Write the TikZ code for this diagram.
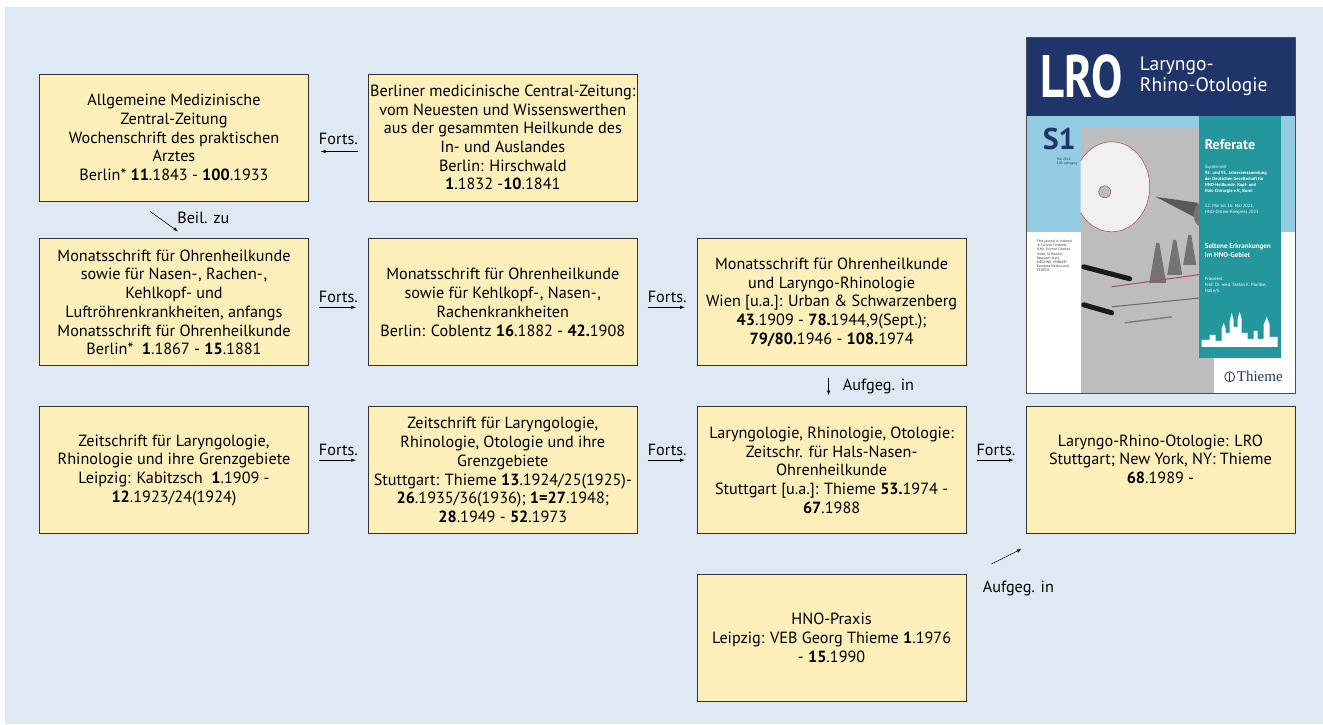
\documentclass[tikz,border=0pt]{standalone}
\usepackage{fontspec}
\setmainfont{PT Sans}
\newfontfamily\thiemefont{Liberation Serif}
\usetikzlibrary{positioning}

\definecolor{bgblue}{HTML}{DFE9F4}
\definecolor{boxfill}{HTML}{FCEFBA}
\definecolor{lronavy}{HTML}{1F3468}
\definecolor{lrosky}{HTML}{94CCE4}
\definecolor{lroteal}{HTML}{24979C}
\definecolor{photogray}{HTML}{BDBDBD}

\begin{document}
\begin{tikzpicture}[font=\fontsize{16.2}{18.7}\selectfont]
    \tikzstyle{journal} = [draw=black!80, fill=boxfill, line width=0.8pt,
    minimum width=269pt, minimum height=127pt, inner sep=0pt, align=center]
    \tikzstyle{link} = [-latex, line width=0.6pt, shorten <=10pt, shorten >=12pt]
    \tikzstyle{linklabel} = [inner sep=1pt]

    \useasboundingbox (0,0) rectangle (1323pt,-724pt);
    \fill [bgblue] (5pt,-7pt) rectangle (1323pt,-724pt);

    \node [journal] (amz) at (174pt,-137.5pt) {Allgemeine Medizinische\\Zentral-Zeitung\\Wochenschrift des praktischen\\Arztes\\Berlin* \textbf{11}.1843 - \textbf{100}.1933};
    \node [journal, right=59pt of amz] (bmc) {Berliner medicinische Central-Zeitung:\\vom Neuesten und Wissenswerthen\\aus der gesammten Heilkunde des\\In- und Auslandes\\Berlin: Hirschwald\\\textbf{1}.1832 -\textbf{10}.1841};
    \node [journal, below=37pt of amz] (mfo) {Monatsschrift für Ohrenheilkunde\\sowie für Nasen-\kern0.8pt, Rachen-\kern0.8pt,\\Kehlkopf- und\\Luftröhrenkrankheiten, anfangs\\Monatsschrift für Ohrenheilkunde\\Berlin*\ \ \textbf{1}.1867 - \textbf{15}.1881};
    \node [journal, right=59pt of mfo] (mfk) {Monatsschrift für Ohrenheilkunde\\sowie für Kehlkopf-\kern0.8pt, Nasen-\kern0.8pt,\\Rachenkrankheiten\\Berlin: Coblentz \textbf{16}.1882 - \textbf{42.}1908};
    \node [journal, right=59pt of mfk] (mlr) {Monatsschrift für Ohrenheilkunde\\und Laryngo-Rhinologie\\Wien [u.a.]: Urban \& Schwarzenberg\\\textbf{43}.1909 - \textbf{78.}1944,9(Sept.);\\\textbf{79/80.}1946 - \textbf{108.}1974};
    \node [journal, below=40pt of mfo] (zlr) {Zeitschrift für Laryngologie,\\Rhinologie und ihre Grenzgebiete\\Leipzig: Kabitzsch\ \ \textbf{1}.1909 -\\\textbf{12}.1923/24(1924)};
    \node [journal, right=59pt of zlr] (zlo) {Zeitschrift für Laryngologie,\\Rhinologie, Otologie und ihre\\Grenzgebiete\\Stuttgart: Thieme \textbf{13}.1924/25(1925)-\\\textbf{26}.1935/36(1936); \textbf{1=27}.1948;\\\textbf{28}.1949 - \textbf{52}.1973};
    \node [journal, right=59pt of zlo] (lrz) {Laryngologie, Rhinologie, Otologie:\\Zeitschr. für Hals-Nasen-\\Ohrenheilkunde\\Stuttgart [u.a.]: Thieme \textbf{53.}1974 -\\\textbf{67}.1988};
    \node [journal, right=59pt of lrz, text depth=22pt] (lro) {Laryngo-Rhino-Otologie: LRO\\Stuttgart; New York, NY: Thieme\\\textbf{68}.1989 -};
    \node [journal, below=40pt of lrz] (hno) {HNO-Praxis\\Leipzig: VEB Georg Thieme \textbf{1}.1976\\- \textbf{15}.1990};

    \draw [link] ([yshift=-14pt]bmc.west) -- node [above=6pt, linklabel] {Forts.} ([yshift=-14pt]amz.east);
    \draw [link] ([yshift=-5pt]mfo.east) -- node [above=3pt, linklabel] {Forts.} ([yshift=-5pt]mfk.west);
    \draw [link] ([yshift=-5pt]mfk.east) -- node [above=3pt, linklabel] {Forts.} ([yshift=-5pt]mlr.west);
    \draw [link] ([yshift=10pt]zlr.east) -- node [above=3pt, linklabel] {Forts.} ([yshift=10pt]zlo.west);
    \draw [link] ([yshift=10pt]zlo.east) -- node [above=3pt, linklabel] {Forts.} ([yshift=10pt]lrz.west);
    \draw [link] ([yshift=10pt]lrz.east) -- node [above=3pt, linklabel] {Forts.} ([yshift=10pt]lro.west);
    \draw [-latex, line width=0.6pt] ([shift={(-24pt,-10pt)}]amz.south) -- node [midway, anchor=west, xshift=12pt, yshift=4pt, linklabel] {Beil. zu} ([shift={(4pt,7pt)}]mfo.north);
    \draw [link, shorten <=12pt, shorten >=11pt] ([xshift=-3pt]mlr.south) -- node [right=13pt, linklabel] {Aufgeg. in} ([xshift=-3pt]lrz.north);
    \draw [-latex, line width=0.6pt] ([shift={(25pt,10pt)}]hno.north east) -- node [at start, anchor=north west, xshift=-10pt, yshift=-16pt, linklabel] {Aufgeg. in} ([shift={(-4pt,-15pt)}]lro.south west);

    % journal cover
    \node [draw=black!70, fill=white, minimum width=269pt, minimum height=356pt, inner sep=0pt, above=13pt of lro] (cover) {};
    \begin{scope}[shift={(cover.north west)}]
        \fill [lronavy] (0,0) rectangle (269pt,-79pt);
        \fill [lrosky] (0,-79pt) rectangle (269pt,-195pt);
        \fill [photogray] (55pt,-91pt) rectangle (188pt,-356pt);
        \begin{scope}
            \clip (55pt,-91pt) rectangle (188pt,-356pt);
            \fill [gray!12] (86pt,-150pt) ellipse (38pt and 45pt);
            \draw [red!45!gray, line width=0.5pt] (86pt,-150pt) ellipse (38pt and 45pt);
            \fill [photogray] (79pt,-155pt) circle (6pt);
            \draw [red!45!gray, line width=0.5pt] (79pt,-155pt) circle (6pt);
            \fill [black!65] (130pt,-160pt) -- (172pt,-166pt) -- (172pt,-182pt) -- cycle;
            \fill [black!55] (178pt,-178pt) ellipse (10pt and 13pt);
            \foreach \x/\t/\b/\w in {132/206/246/8.5, 149/203/238/7.5, 164/198/228/6.5}
                \fill [black!55] ({(\x-1.5)*1pt},{-\t*1pt}) -- ({(\x+1.5)*1pt},{-\t*1pt}) -- ({(\x+\w)*1pt},{-\b*1pt}) -- ({(\x-\w)*1pt},{-\b*1pt}) -- cycle;
            \draw [black!90, line width=5pt, line cap=round] (58pt,-230pt) -- (104pt,-242pt);
            \draw [black!90, line width=5pt, line cap=round] (58pt,-268pt) -- (86pt,-276pt);
            \draw [red!40!gray, line width=1pt] (86pt,-250pt) -- (186pt,-236pt);
            \draw [black!60, line width=1pt] (86pt,-270pt) -- (186pt,-260pt);
            \draw [black!50, line width=1.5pt] (99pt,-286pt) -- (146pt,-280pt);
        \end{scope}
        \fill [lroteal] (173pt,-79pt) rectangle (255pt,-321pt);
        \fill [white] (176pt,-310pt) -- (176pt,-303pt) -- (184pt,-303pt) -- (184pt,-298pt) -- (190pt,-298pt) -- (190pt,-304pt) -- (196pt,-304pt) -- (196pt,-292pt) -- (198pt,-286pt) -- (200pt,-292pt) -- (200pt,-296pt) -- (204pt,-296pt) -- (204pt,-284pt) -- (206pt,-276pt) -- (208pt,-284pt) -- (208pt,-290pt) -- (212pt,-290pt) -- (212pt,-282pt) -- (214pt,-275pt) -- (216pt,-282pt) -- (216pt,-296pt) -- (222pt,-296pt) -- (222pt,-302pt) -- (228pt,-302pt) -- (228pt,-294pt) -- (232pt,-294pt) -- (232pt,-302pt) -- (238pt,-302pt) -- (238pt,-288pt) -- (241pt,-280pt) -- (244pt,-288pt) -- (244pt,-300pt) -- (252pt,-300pt) -- (252pt,-310pt) -- cycle;
        \node [white, font=\bfseries\fontsize{60}{60}\selectfont, xscale=0.78, transform shape, anchor=base, inner sep=0pt] (lrotitle) at (56pt,-61pt) {LRO};
        \node [white, font=\fontsize{19.5}{19.5}\selectfont, anchor=base west, inner sep=0pt] (lroname) at (114pt,-34pt) {Laryngo-};
        \node [white, font=\fontsize{19.5}{19.5}\selectfont, anchor=base west, inner sep=0pt] (lronametwo) at (114pt,-55pt) {Rhino-Otologie};
        \node [lronavy, font=\bfseries\fontsize{30}{30}\selectfont, anchor=base, inner sep=0pt] (lroissue) at (33.5pt,-113pt) {S1};
        \node [lronavy, font=\fontsize{3.4}{4.4}\selectfont, align=left, anchor=north west, inner sep=0pt] at (31pt,-121pt) {Mai 2021\\100. Jahrgang};
        \node [black!80, font=\fontsize{3.6}{4.2}\selectfont, align=left, anchor=north west, inner sep=0pt] at (11pt,-203pt) {This journal is indexed\\in Current Contents\\(CM), Science Citation\\Index, SciSearch,\\Research Alert,\\MEDLINE, EMBASE/\\Excerpta Medica and\\SCOPUS};
        \node [white, font=\bfseries\fontsize{14}{14}\selectfont, anchor=west, inner sep=0pt] at (179pt,-108pt) {Referate};
        \node [white, font=\fontsize{4.5}{6}\selectfont, align=left, anchor=north west, inner sep=0pt] at (179pt,-128pt) {\textit{Supplement}\\\textbf{92. und 91. Jahresversammlung}\\\textbf{der Deutschen Gesellschaft für}\\\textbf{HNO-Heilkunde, Kopf- und}\\\textbf{Hals-Chirurgie e.V., Bonn}};
        \node [white, font=\fontsize{4.5}{6}\selectfont, align=left, anchor=north west, inner sep=0pt] at (179pt,-167pt) {12. Mai bis 16. Mai 2021,\\HNO-Online-Kongress 2021};
        \node [white, font=\bfseries\fontsize{7}{9.5}\selectfont, align=left, anchor=north west, inner sep=0pt] at (179pt,-206pt) {Seltene Erkrankungen\\im HNO-Gebiet};
        \node [white, font=\fontsize{4.5}{6}\selectfont, align=left, anchor=north west, inner sep=0pt] at (179pt,-240pt) {Präsident\\Prof. Dr. med. Stefan K. Plontke,\\Halle/S.};
        \draw [lronavy, line width=0.8pt] (204pt,-340pt) circle (5pt);
        \draw [lronavy, line width=0.6pt] (204pt,-336pt) -- (204pt,-344pt);
        \node [lronavy, font=\thiemefont\fontsize{15}{15}\selectfont, anchor=west, inner sep=0pt] at (211pt,-340pt) {Thieme};
    \end{scope}
    \draw [black!70] (cover.north west) rectangle (cover.south east);
\end{tikzpicture}
\end{document}
